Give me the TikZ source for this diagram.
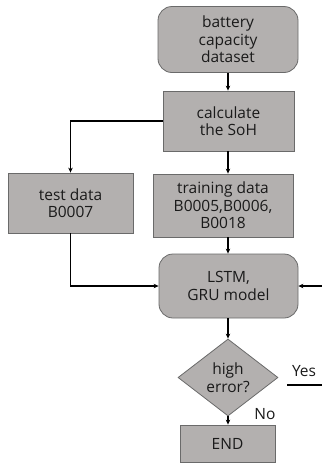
\documentclass[tikz,border=0pt]{standalone}
\usepackage{fontspec}
\setmainfont{Open Sans}
\usetikzlibrary{shapes.geometric,arrows.meta}
\definecolor{boxfill}{HTML}{B3B0AF}
\definecolor{boxline}{HTML}{6A6A6A}
\definecolor{txt}{HTML}{1A1A1A}
\begin{document}
\begin{tikzpicture}[x=1pt,y=-1pt,
  base/.style={draw=boxline,fill=boxfill,line width=0.8pt,text=txt,align=center,
    font=\fontsize{15.5}{17.5}\selectfont,inner sep=0pt},
  sqbox/.style={base,rectangle},
  rbox/.style={base,rectangle,rounded corners=14pt},
  dbox/.style={base,diamond,aspect=1.3},
  lbl/.style={font=\fontsize{15.5}{17.5}\selectfont,text=txt},
  conn/.style={line width=1.6pt,black},
  arr/.style={conn,-{Stealth[length=5pt,width=4.5pt]}}]
\useasboundingbox (0,0) rectangle (322,467);
\node[rbox,minimum width=140pt,minimum height=66pt] (batt) at (228,39.5) {battery\\capacity\\dataset};
\node[sqbox,minimum width=131pt,minimum height=60pt] (calc) at (228.5,121) {calculate\\the SoH};
\node[sqbox,minimum width=125pt,minimum height=60pt] (test) at (70.5,203) {test data\\B0007};
\node[sqbox,minimum width=140pt,minimum height=63pt] (train) at (223,205.5) {training data\\B0005,B0006,\\B0018};
\node[rbox,minimum width=139pt,minimum height=64pt] (lstm) at (228.5,286) {LSTM,\\GRU model};
\node[dbox,minimum width=100pt,minimum height=77pt] (dia) at (228,377.5) {high\\error?};
\node[sqbox,minimum width=95pt,minimum height=37pt] (end) at (227.5,443.5) {END};
\node[lbl] (yes) at (304,371) {Yes};
\node[lbl] (no) at (265,414) {No};
\coordinate (ya) at (287,385);
\coordinate (yb) at (322,385);
\coordinate (ra) at (322,286);
\draw[arr] (228,0 |- batt.south) -- (228,0 |- calc.north);
\draw[arr] (calc.west) -| (test.north);
\draw[arr] (228,0 |- calc.south) -- (228,0 |- train.north);
\draw[arr] (228,0 |- train.south) -- (228,0 |- lstm.north);
\draw[arr] (test.south) |- (lstm.west);
\draw[arr] (ra) -- (lstm.east);
\draw[arr] (228,0 |- lstm.south) -- (dia.north);
\draw[arr] (dia.south) -- (228,0 |- end.north);
\draw[conn] (ya) -- (yb);
\end{tikzpicture}
\end{document}
